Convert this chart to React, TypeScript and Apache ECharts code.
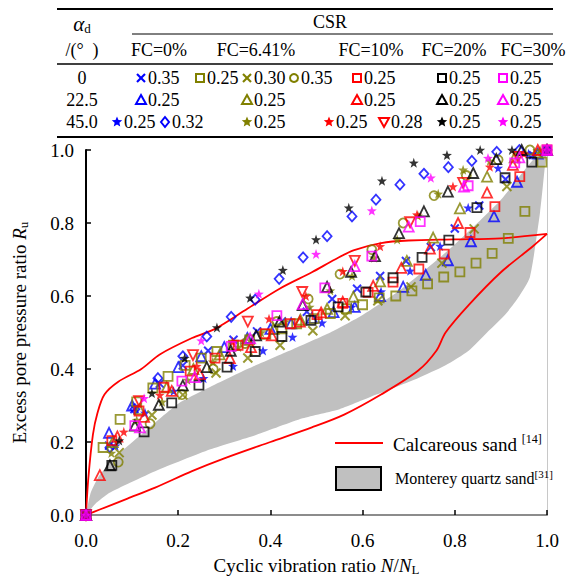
import React, { useEffect, useRef } from "react";
import * as echarts from "echarts";

// ---------- axis ticks ----------
const xTickValues = [0, 0.2, 0.4, 0.6, 0.8, 1.0];
const yTickValues = [0, 0.2, 0.4, 0.6, 0.8, 1.0];

// ---------- FC = 0% ----------
const fc0_a0_csr035 = [[0,0],[0.05,0.19],[0.105,0.29],[0.16,0.36],[0.21,0.41],[0.265,0.45],[0.32,0.48],[0.371,0.503],[0.425,0.53],[0.479,0.557],[0.534,0.592],[0.588,0.62],[0.638,0.655],[0.694,0.696],[0.748,0.734],[0.8,0.785],[0.853,0.848],[0.91,0.92],[0.97,0.986],[1.0,1.0]];
const fc0_a22_csr025 = [[0,0],[0.05,0.225],[0.1,0.3],[0.15,0.36],[0.2,0.405],[0.25,0.435],[0.3,0.46],[0.35,0.485],[0.4,0.51],[0.445,0.525],[0.49,0.54],[0.537,0.556],[0.583,0.57],[0.638,0.6],[0.688,0.625],[0.737,0.658],[0.785,0.698],[0.835,0.75],[0.885,0.818],[0.935,0.913],[0.98,0.99]];
const fc0_a45_csr025 = [[0,0],[0.064,0.19],[0.128,0.28],[0.19,0.34],[0.255,0.375],[0.319,0.408],[0.384,0.451],[0.448,0.488],[0.512,0.527],[0.576,0.57],[0.64,0.612],[0.703,0.669],[0.768,0.737],[0.829,0.842],[0.894,0.951],[0.96,0.99],[1.0,1.0]];
const fc0_a45_csr032 = [[0,0],[0.052,0.185],[0.106,0.29],[0.156,0.375],[0.21,0.435],[0.262,0.489],[0.315,0.543],[0.367,0.59],[0.419,0.647],[0.471,0.706],[0.523,0.764],[0.577,0.818],[0.629,0.864],[0.681,0.905],[0.733,0.935],[0.786,0.953],[0.837,0.97],[0.891,0.995],[0.94,1.0],[1.0,1.0]];

// ---------- FC = 6.41% ----------
const fc641_a0_csr025 = [[0,0],[0.037,0.185],[0.074,0.262],[0.11,0.31],[0.145,0.348],[0.178,0.38],[0.215,0.41],[0.25,0.43],[0.284,0.448],[0.32,0.465],[0.355,0.48],[0.39,0.495],[0.425,0.51],[0.457,0.524],[0.495,0.538],[0.53,0.552],[0.565,0.565],[0.6,0.576],[0.636,0.595],[0.672,0.6],[0.707,0.614],[0.741,0.633],[0.776,0.652],[0.811,0.666],[0.846,0.69],[0.881,0.717],[0.916,0.758],[0.952,0.832],[0.989,0.967]];
const fc641_a0_csr030 = [[0,0],[0.072,0.171],[0.143,0.274],[0.21,0.329],[0.282,0.389],[0.351,0.43],[0.421,0.465],[0.492,0.505],[0.562,0.546],[0.633,0.587],[0.705,0.625],[0.772,0.69],[0.842,0.784],[0.913,0.9],[0.98,0.99]];
const fc641_a0_csr035 = [[0,0],[0.07,0.145],[0.139,0.25],[0.208,0.33],[0.276,0.4],[0.345,0.47],[0.414,0.53],[0.482,0.592],[0.551,0.66],[0.62,0.727],[0.688,0.8],[0.755,0.875],[0.825,0.93],[0.894,0.973],[0.963,1.0]];
const fc641_a22_csr025 = [[0,0],[0.058,0.2],[0.116,0.29],[0.175,0.35],[0.233,0.4],[0.29,0.44],[0.35,0.48],[0.407,0.51],[0.465,0.535],[0.523,0.565],[0.58,0.598],[0.638,0.64],[0.696,0.696],[0.753,0.76],[0.811,0.84],[0.87,0.927],[0.93,0.98],[1.0,1.0]];
const fc641_a45_csr025 = [[0,0],[0.055,0.17],[0.11,0.26],[0.165,0.31],[0.22,0.37],[0.275,0.42],[0.33,0.46],[0.38,0.5],[0.432,0.53],[0.485,0.57],[0.53,0.615],[0.577,0.655],[0.625,0.705],[0.675,0.755],[0.72,0.82],[0.764,0.88],[0.818,0.946],[0.876,0.97],[0.935,0.986],[0.985,1.0]];

// ---------- FC = 10% ----------
const fc10_a0_csr025 = [[0,0],[0.056,0.204],[0.115,0.285],[0.169,0.35],[0.226,0.394],[0.28,0.43],[0.33,0.465],[0.388,0.497],[0.443,0.524],[0.501,0.549],[0.557,0.58],[0.612,0.61],[0.666,0.638],[0.722,0.674],[0.777,0.715],[0.833,0.774],[0.887,0.845],[0.941,0.927],[1.0,1.0]];
const fc10_a22_csr025 = [[0,0],[0.03,0.109],[0.068,0.215],[0.126,0.269],[0.186,0.34],[0.247,0.386],[0.312,0.43],[0.358,0.46],[0.403,0.492],[0.464,0.53],[0.51,0.555],[0.557,0.584],[0.623,0.628],[0.684,0.677],[0.746,0.73],[0.807,0.8],[0.87,0.883],[0.926,0.959],[0.98,1.0]];
const fc10_a45_csr025 = [[0,0],[0.082,0.228],[0.16,0.329],[0.24,0.408],[0.318,0.475],[0.397,0.538],[0.477,0.6],[0.557,0.668],[0.638,0.736],[0.718,0.823],[0.796,0.9],[0.876,0.954],[0.95,0.99]];
const fc10_a45_csr028 = [[0,0],[0.115,0.312],[0.232,0.438],[0.351,0.53],[0.469,0.611],[0.583,0.696],[0.703,0.802],[0.818,0.91],[0.937,0.981]];

// ---------- FC = 20% ----------
const fc20_a0_csr025 = [[0,0],[0.056,0.136],[0.126,0.228],[0.186,0.307],[0.245,0.356],[0.306,0.405],[0.367,0.448],[0.425,0.489],[0.488,0.533],[0.547,0.57],[0.607,0.611],[0.666,0.65],[0.729,0.706],[0.787,0.753],[0.848,0.842],[0.909,0.924],[0.967,0.967]];
const fc20_a22_csr025 = [[0,0],[0.052,0.136],[0.106,0.245],[0.158,0.302],[0.21,0.355],[0.262,0.405],[0.314,0.45],[0.369,0.492],[0.42,0.53],[0.47,0.575],[0.523,0.625],[0.575,0.666],[0.627,0.709],[0.679,0.772],[0.733,0.832],[0.785,0.886],[0.84,0.937],[0.89,0.975],[0.945,1.0],[1.0,1.0]];
const fc20_a45_csr025 = [[0,0],[0.072,0.204],[0.143,0.334],[0.214,0.43],[0.284,0.514],[0.356,0.595],[0.427,0.671],[0.499,0.755],[0.57,0.842],[0.642,0.916],[0.711,0.965],[0.783,0.986],[0.855,1.0],[0.924,1.0],[1.0,1.0]];

// ---------- FC = 30% ----------
const fc30_a0_csr025 = [[0,0],[0.106,0.245],[0.208,0.367],[0.315,0.462],[0.414,0.546],[0.518,0.622],[0.62,0.709],[0.725,0.804],[0.829,0.902],[0.93,0.965],[1.0,1.0]];
const fc30_a22_csr025 = [[0,0],[0.117,0.24],[0.236,0.378],[0.356,0.484],[0.47,0.578],[0.583,0.682],[0.7,0.79],[0.82,0.9],[0.94,0.98],[1.0,1.0]];
const fc30_a45_csr025 = [[0,0],[0.126,0.32],[0.25,0.478],[0.375,0.606],[0.499,0.715],[0.62,0.834],[0.748,0.924],[0.872,0.978],[1.0,1.0]];

// ---------- reference curves ----------
const calcareousUpper = [[0,0],[0.005,0.1],[0.015,0.22],[0.025,0.28],[0.04,0.33],[0.07,0.365],[0.12,0.4],[0.16,0.44],[0.23,0.485],[0.28,0.51],[0.35,0.565],[0.42,0.62],[0.49,0.665],[0.54,0.7],[0.58,0.725],[0.64,0.745],[0.7,0.752],[0.8,0.755],[0.9,0.758],[1.0,0.77]];
const calcareousLower = [[0,0],[0.03,0.015],[0.09,0.045],[0.15,0.075],[0.23,0.12],[0.3,0.155],[0.4,0.2],[0.49,0.24],[0.56,0.275],[0.64,0.33],[0.72,0.395],[0.76,0.45],[0.78,0.5],[0.83,0.575],[0.9,0.665],[0.97,0.737],[1.0,0.77]];
const montereyUpper = [[0,0],[0.01,0.06],[0.03,0.11],[0.07,0.165],[0.11,0.21],[0.2,0.305],[0.26,0.345],[0.35,0.4],[0.45,0.455],[0.53,0.5],[0.6,0.548],[0.68,0.615],[0.79,0.73],[0.9,0.864],[0.97,0.973],[1.0,1.0]];
const montereyLower = [[0,0],[0.02,0.03],[0.05,0.06],[0.09,0.085],[0.15,0.12],[0.27,0.18],[0.37,0.22],[0.47,0.265],[0.55,0.29],[0.63,0.33],[0.72,0.375],[0.78,0.41],[0.83,0.45],[0.87,0.5],[0.91,0.55],[0.94,0.6],[0.963,0.652],[0.985,0.83],[0.995,0.95],[1.0,1.0]];

const FONT = "Liberation Serif, Times New Roman, DejaVu Serif, serif";
const BLUE = "#0000ff";
const OLIVE = "#808000";
const RED = "#ff0000";
const BLACK = "#000000";
const MAGENTA = "#ff00ff";

const CROSS = "path://M0,0L10,10M10,0L0,10";
const STAR = "path://M5,0L6.2,3.6L10,3.7L7,6L8.1,9.6L5,7.5L1.9,9.6L3,6L0,3.7L3.8,3.6Z";

function scatter(name: string, data: number[][], symbol: string, color: string, size: any, kind: string, rotate = 0) {
  let itemStyle: any;
  if (kind === "fill") itemStyle = { color, borderWidth: 0 };
  else itemStyle = { color: "rgba(0,0,0,0)", borderColor: color, borderWidth: kind === "cross" ? 2 : 1.8 };
  return { name, type: "scatter", data, symbol, symbolSize: size, symbolRotate: rotate, itemStyle, z: 5 };
}

const seriesDefs = [
  scatter("FC0 a0 0.35", fc0_a0_csr035, CROSS, BLUE, 8, "cross"),
  scatter("FC0 a22.5 0.25", fc0_a22_csr025, "triangle", BLUE, 10, "hollow"),
  scatter("FC0 a45 0.25", fc0_a45_csr025, STAR, BLUE, 10, "fill"),
  scatter("FC0 a45 0.32", fc0_a45_csr032, "diamond", BLUE, [9, 10], "hollow"),
  scatter("FC6.41 a0 0.25", fc641_a0_csr025, "rect", OLIVE, 9, "hollow"),
  scatter("FC6.41 a0 0.30", fc641_a0_csr030, CROSS, OLIVE, 9, "cross"),
  scatter("FC6.41 a0 0.35", fc641_a0_csr035, "circle", OLIVE, 9, "hollow"),
  scatter("FC6.41 a22.5 0.25", fc641_a22_csr025, "triangle", OLIVE, 10, "hollow"),
  scatter("FC6.41 a45 0.25", fc641_a45_csr025, STAR, OLIVE, 10, "fill"),
  scatter("FC10 a0 0.25", fc10_a0_csr025, "rect", RED, 9, "hollow"),
  scatter("FC10 a22.5 0.25", fc10_a22_csr025, "triangle", RED, 10, "hollow"),
  scatter("FC10 a45 0.25", fc10_a45_csr025, STAR, RED, 10, "fill"),
  scatter("FC10 a45 0.28", fc10_a45_csr028, "triangle", RED, 10, "hollow", 180),
  scatter("FC20 a0 0.25", fc20_a0_csr025, "rect", BLACK, 9, "hollow"),
  scatter("FC20 a22.5 0.25", fc20_a22_csr025, "triangle", BLACK, 10, "hollow"),
  scatter("FC20 a45 0.25", fc20_a45_csr025, STAR, BLACK, 10, "fill"),
  scatter("FC30 a0 0.25", fc30_a0_csr025, "rect", MAGENTA, 9, "hollow"),
  scatter("FC30 a22.5 0.25", fc30_a22_csr025, "triangle", MAGENTA, 10, "hollow"),
  scatter("FC30 a45 0.25", fc30_a45_csr025, STAR, MAGENTA, 10, "fill"),
];

// ---------- table (legend) layout ----------
const headerCols = [
  { t: "FC=0%", x: 159 },
  { t: "FC=6.41%", x: 256 },
  { t: "FC=10%", x: 371 },
  { t: "FC=20%", x: 454 },
  { t: "FC=30%", x: 533 },
];
const rowLabels = [
  { t: "0", y: 78 },
  { t: "22.5", y: 100 },
  { t: "45.0", y: 122 },
];
// marker, colour, marker-centre x, row index, csr text
const tableEntries: [string, string, number, number, string][] = [
  ["cross", BLUE, 141, 0, "0.35"],
  ["square", OLIVE, 200, 0, "0.25"],
  ["cross", OLIVE, 247, 0, "0.30"],
  ["circle", OLIVE, 294, 0, "0.35"],
  ["square", RED, 357, 0, "0.25"],
  ["square", BLACK, 442, 0, "0.25"],
  ["square", MAGENTA, 503, 0, "0.25"],
  ["tri", BLUE, 141, 1, "0.25"],
  ["tri", OLIVE, 247, 1, "0.25"],
  ["tri", RED, 357, 1, "0.25"],
  ["tri", BLACK, 442, 1, "0.25"],
  ["tri", MAGENTA, 503, 1, "0.25"],
  ["star", BLUE, 117, 2, "0.25"],
  ["diamond", BLUE, 165, 2, "0.32"],
  ["star", OLIVE, 247, 2, "0.25"],
  ["star", RED, 329, 2, "0.25"],
  ["tridown", RED, 384, 2, "0.28"],
  ["star", BLACK, 442, 2, "0.25"],
  ["star", MAGENTA, 503, 2, "0.25"],
];

function starPoints(cx: number, cy: number, R: number) {
  const pts: number[][] = [];
  for (let i = 0; i < 10; i++) {
    const r = i % 2 === 0 ? R : R * 0.45;
    const a = -Math.PI / 2 + (i * Math.PI) / 5;
    pts.push([cx + r * Math.cos(a), cy + r * Math.sin(a)]);
  }
  return pts;
}

function markerGraphic(kind: string, color: string, x: number, y: number) {
  const stroke = { stroke: color, lineWidth: 2, fill: "none" };
  switch (kind) {
    case "square":
      return { type: "rect", shape: { x: x - 4, y: y - 4, width: 8, height: 8 }, style: stroke, z: 10 };
    case "circle":
      return { type: "circle", shape: { cx: x, cy: y, r: 4 }, style: stroke, z: 10 };
    case "tri":
      return { type: "polygon", shape: { points: [[x, y - 5], [x + 5, y + 4], [x - 5, y + 4]] }, style: stroke, z: 10 };
    case "tridown":
      return { type: "polygon", shape: { points: [[x - 5, y - 4], [x + 5, y - 4], [x, y + 5]] }, style: stroke, z: 10 };
    case "diamond":
      return { type: "polygon", shape: { points: [[x, y - 5], [x + 4, y], [x, y + 5], [x - 4, y]] }, style: stroke, z: 10 };
    case "star":
      return { type: "polygon", shape: { points: starPoints(x, y, 5.5) }, style: { fill: color, stroke: "none" }, z: 10 };
    default:
      return {
        type: "group",
        z: 10,
        children: [
          { type: "line", shape: { x1: x - 4, y1: y - 4, x2: x + 4, y2: y + 4 }, style: { stroke: color, lineWidth: 2.2 }, z: 10 },
          { type: "line", shape: { x1: x + 4, y1: y - 4, x2: x - 4, y2: y + 4 }, style: { stroke: color, lineWidth: 2.2 }, z: 10 },
        ],
      };
  }
}

function buildGraphics() {
  const g: any[] = [];
  const line = (x1: number, y1: number, x2: number, y2: number, w: number) =>
    g.push({ type: "line", shape: { x1, y1, x2, y2 }, style: { stroke: "#000", lineWidth: w }, z: 10 });
  line(57, 9, 553, 9, 2);
  line(132, 34, 553, 34, 1);
  line(57, 64, 553, 64, 1.5);
  line(57, 137, 553, 137, 2);
  const text = (t: string, x: number, y: number, align: string, extra: any = {}) =>
    g.push({
      type: "text",
      z: 10,
      style: { text: t, x, y, align, verticalAlign: "middle", fill: "#000", fontFamily: FONT, fontSize: 18, ...extra },
    });
  text("{a|α}{s|d}", 82, 24, "center", {
    rich: {
      a: { fontFamily: FONT, fontSize: 21, fontStyle: "italic" },
      s: { fontFamily: FONT, fontSize: 13, verticalAlign: "bottom", padding: [8, 0, 0, 0] },
    },
  });
  text("/(°  )", 82, 50, "center");
  text("CSR", 330, 22, "center");
  headerCols.forEach((h) => text(h.t, h.x, 50, "center"));
  rowLabels.forEach((r) => text(r.t, 82, r.y, "center"));
  tableEntries.forEach(([kind, color, x, row, v]) => {
    const y = rowLabels[row].y;
    g.push(markerGraphic(kind, color, x, y));
    text(v, x + 7, y, "left");
  });
  // plot legend
  g.push({ type: "line", shape: { x1: 335, y1: 443, x2: 383, y2: 443 }, style: { stroke: RED, lineWidth: 2 }, z: 10 });
  g.push({ type: "rect", shape: { x: 336, y: 467, width: 45, height: 23 }, style: { fill: "#c0c0c0", stroke: "#000", lineWidth: 2 }, z: 10 });
  text("{m|Calcareous sand }{sup|[14]}", 393, 444, "left", {
    rich: {
      m: { fontFamily: FONT, fontSize: 19 },
      sup: { fontFamily: FONT, fontSize: 12, verticalAlign: "top", padding: [0, 0, 10, 0] },
    },
  });
  text("{m|Monterey quartz sand}{sup|[31]}", 395, 478, "left", {
    rich: {
      m: { fontFamily: FONT, fontSize: 16 },
      sup: { fontFamily: FONT, fontSize: 11, verticalAlign: "top", padding: [0, 0, 8, 0] },
    },
  });
  return g;
}

export default function App() {
  const ref = useRef<HTMLDivElement>(null);
  useEffect(() => {
    if (!ref.current) return;
    const chart = echarts.init(ref.current, null, { renderer: "svg" });
    const bandPolygon = [...montereyUpper, ...[...montereyLower].reverse()];
    const nameRich = {
      t: { fontFamily: FONT, fontSize: 19, color: "#000" },
      i: { fontFamily: FONT, fontSize: 19, fontStyle: "italic", color: "#000" },
      s: { fontFamily: FONT, fontSize: 13, color: "#000", verticalAlign: "bottom", padding: [8, 0, 0, 0] },
    };
    const option: any = {
      animation: false,
      backgroundColor: "#fff",
      textStyle: { fontFamily: FONT },
      grid: { left: 86, right: 24, top: 150, bottom: 63, containLabel: false },
      xAxis: {
        type: "value",
        min: 0,
        max: 1,
        interval: 0.2,
        name: "{t|Cyclic vibration ratio }{i|N}{t|/}{i|N}{s|L}",
        nameLocation: "middle",
        nameGap: 40,
        nameTextStyle: { fontFamily: FONT, rich: nameRich },
        axisLine: { show: true, lineStyle: { color: "#8c8c8c", width: 2 } },
        axisTick: { show: true, inside: true, length: 5, lineStyle: { color: "#000", width: 1.5 } },
        axisLabel: {
          margin: 16,
          fontFamily: FONT,
          fontSize: 19,
          color: "#000",
          formatter: (v: number) => (xTickValues.some((t) => Math.abs(t - v) < 1e-6) ? v.toFixed(1) : ""),
        },
        splitLine: { show: false },
      },
      yAxis: [
        {
          type: "value",
          min: 0,
          max: 1,
          interval: 0.2,
          name: "{t|Excess pore pressure ratio }{i|R}{s|u}",
          nameLocation: "middle",
          nameGap: 56,
          nameRotate: 90,
          nameTextStyle: { fontFamily: FONT, rich: nameRich },
          axisLine: { show: true, lineStyle: { color: "#000", width: 2 } },
          axisTick: { show: true, inside: true, length: 5, lineStyle: { color: "#000", width: 1.5 } },
          axisLabel: {
            margin: 12,
            fontFamily: FONT,
            fontSize: 19,
            color: "#000",
            formatter: (v: number) => (yTickValues.some((t) => Math.abs(t - v) < 1e-6) ? v.toFixed(1) : ""),
          },
          splitLine: { show: false },
        },
        {
          type: "value",
          min: 0,
          max: 1,
          position: "right",
          axisLine: { show: true, lineStyle: { color: "#c8c8c8", width: 1 } },
          axisTick: { show: false },
          axisLabel: { show: false },
          splitLine: { show: false },
        },
      ],
      graphic: buildGraphics(),
      series: [
        {
          name: "Monterey quartz sand",
          type: "custom",
          data: [[0, 0]],
          silent: true,
          z: 1,
          renderItem: (_p: any, api: any) => ({
            type: "polygon",
            shape: { points: bandPolygon.map((p) => api.coord(p)), smooth: 0.2 },
            style: { fill: "#c0c0c0", stroke: "none" },
          }),
        },
        {
          name: "Calcareous upper",
          type: "line",
          data: calcareousUpper,
          smooth: 0.3,
          showSymbol: false,
          symbol: "none",
          lineStyle: { color: RED, width: 1.8 },
          z: 2,
        },
        {
          name: "Calcareous lower",
          type: "line",
          data: calcareousLower,
          smooth: 0.3,
          showSymbol: false,
          symbol: "none",
          lineStyle: { color: RED, width: 1.8 },
          z: 2,
        },
        ...seriesDefs,
      ],
    };
    chart.setOption(option);
    return () => chart.dispose();
  }, []);
  return (
    <div
      ref={ref}
      style={{ position: "fixed", left: 0, top: 0, width: 571, height: 581, background: "#fff" }}
    />
  );
}
